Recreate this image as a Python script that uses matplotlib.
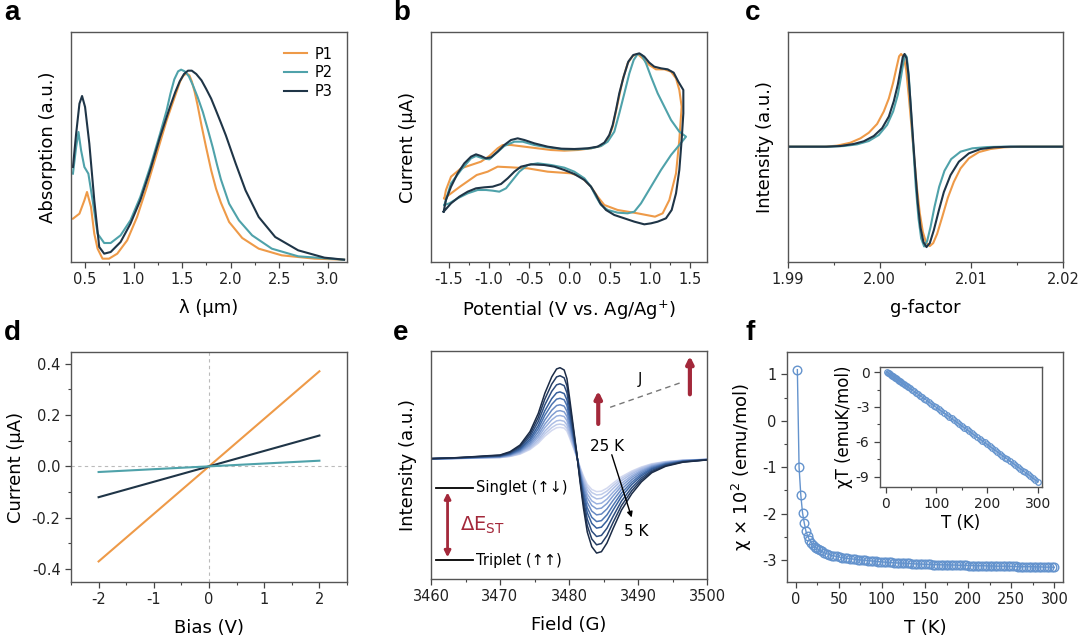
import numpy as np
import matplotlib
matplotlib.use("Agg")
import matplotlib.pyplot as plt
from matplotlib.ticker import MultipleLocator, FormatStrFormatter
from matplotlib.colors import LinearSegmentedColormap

plt.rcParams['font.family'] = ['DejaVu Sans']
plt.rcParams['axes.unicode_minus'] = False
plt.rcParams['mathtext.fontset'] = 'dejavusans'

# ---------------- colours ----------------
C_P1 = '#EE9A48'
C_P2 = '#4FA2AA'
C_P3 = '#1F3547'
C_RED = '#A3283A'

# ---------------- panel a: absorption ----------------
a_p1_x = [0.375, 0.442, 0.493, 0.52, 0.561, 0.595, 0.629, 0.68, 0.747, 0.832, 0.934, 1.036, 1.137,
          1.239, 1.341, 1.40, 1.442, 1.48, 1.51, 1.545, 1.575, 1.60, 1.63, 1.66, 1.70, 1.747,
          1.80, 1.85, 1.90, 1.985, 2.12, 2.29, 2.527, 2.866, 3.17]
a_p1_y = [1.30, 1.45, 1.85, 2.10, 1.65, 0.85, 0.40, 0.10, 0.10, 0.25, 0.65, 1.35, 2.25,
          3.25, 4.25, 4.75, 5.10, 5.42, 5.58, 5.66, 5.60, 5.42, 5.10, 4.70, 4.10, 3.45,
          2.75, 2.20, 1.78, 1.20, 0.72, 0.40, 0.20, 0.10, 0.07]
a_p2_x = [0.375, 0.408, 0.432, 0.459, 0.493, 0.534, 0.578, 0.629, 0.697, 0.764, 0.866, 0.968, 1.069,
          1.171, 1.273, 1.341, 1.38, 1.42, 1.459, 1.49, 1.527, 1.57, 1.612, 1.66, 1.714, 1.765,
          1.815, 1.86, 1.90, 1.985, 2.086, 2.222, 2.425, 2.697, 3.17]
a_p2_y = [2.65, 3.45, 3.90, 3.35, 2.85, 2.65, 1.85, 0.85, 0.57, 0.57, 0.80, 1.25, 1.95,
          2.85, 3.85, 4.55, 5.05, 5.48, 5.72, 5.77, 5.72, 5.57, 5.30, 4.95, 4.50, 3.98,
          3.45, 2.92, 2.48, 1.75, 1.25, 0.80, 0.40, 0.17, 0.07]
a_p3_x = [0.375, 0.408, 0.442, 0.469, 0.50, 0.544, 0.595, 0.646, 0.697, 0.764, 0.866, 0.968, 1.069,
          1.171, 1.273, 1.375, 1.43, 1.476, 1.52, 1.561, 1.60, 1.646, 1.70, 1.747, 1.80, 1.849,
          1.90, 1.951, 2.053, 2.154, 2.29, 2.46, 2.697, 2.968, 3.17]
a_p3_y = [2.85, 3.85, 4.75, 4.98, 4.65, 3.55, 1.85, 0.45, 0.25, 0.30, 0.60, 1.15, 1.85,
          2.75, 3.75, 4.65, 5.10, 5.42, 5.64, 5.74, 5.74, 5.64, 5.45, 5.20, 4.90, 4.55,
          4.18, 3.80, 2.95, 2.15, 1.35, 0.75, 0.35, 0.13, 0.07]
a_xticks = [0.5, 1.0, 1.5, 2.0, 2.5, 3.0]

# ---------------- panel b: cyclic voltammetry ----------------
b_p1_x = [-1.554, -1.534, -1.471, -1.347, -1.223, -1.099, -0.995, -0.892, -0.829, -0.726, -0.560,
          -0.394, -0.229, -0.063, 0.103, 0.268, 0.393, 0.476, 0.538, 0.600, 0.662, 0.724, 0.786,
          0.848, 0.910, 0.993, 1.076, 1.180, 1.263, 1.325, 1.366, 1.395, 1.366, 1.325, 1.242,
          1.159, 1.064, 0.848, 0.600, 0.434, 0.351, 0.268, 0.144, 0.020, -0.270, -0.519, -0.726,
          -0.892, -1.016, -1.152, -1.360, -1.554]
b_p1_y = [1.91, 2.16, 2.56, 2.81, 2.91, 3.01, 3.18, 3.41, 3.51, 3.51, 3.46,
          3.41, 3.36, 3.34, 3.36, 3.41, 3.48, 3.66, 4.06, 4.76, 5.46, 5.96, 6.18,
          6.24, 6.11, 5.91, 5.78, 5.78, 5.71, 5.51, 5.16, 4.66, 3.66, 2.66, 1.86,
          1.46, 1.36, 1.46, 1.56, 1.71, 1.96, 2.26, 2.56, 2.66, 2.71, 2.81, 2.84,
          2.86, 2.71, 2.61, 2.26, 1.91]
b_p2_x = [-1.554, -1.471, -1.347, -1.223, -1.161, -1.078, -0.995, -0.912, -0.809, -0.684, -0.581,
          -0.436, -0.270, -0.063, 0.103, 0.268, 0.393, 0.476, 0.558, 0.620, 0.683, 0.745, 0.799,
          0.848, 0.898, 0.952, 1.014, 1.097, 1.180, 1.263, 1.366, 1.449, 1.366, 1.263, 1.138,
          1.014, 0.890, 0.807, 0.724, 0.600, 0.476, 0.393, 0.331, 0.268, 0.186, 0.061, -0.063,
          -0.229, -0.394, -0.519, -0.622, -0.705, -0.788, -0.871, -0.954, -1.037, -1.140, -1.264,
          -1.389, -1.492, -1.554]
b_p2_y = [1.71, 2.36, 2.76, 3.11, 3.18, 3.11, 3.08, 3.26, 3.48, 3.61, 3.61,
          3.51, 3.44, 3.38, 3.38, 3.41, 3.48, 3.61, 3.91, 4.46, 5.06, 5.66, 6.06,
          6.24, 6.21, 5.96, 5.56, 5.06, 4.66, 4.26, 3.91, 3.76, 3.51, 3.21, 2.76,
          2.26, 1.76, 1.51, 1.46, 1.48, 1.56, 1.71, 1.96, 2.26, 2.51, 2.71, 2.83,
          2.91, 2.96, 2.91, 2.71, 2.46, 2.21, 2.11, 2.14, 2.16, 2.16, 2.06,
          1.91, 1.76, 1.71]
b_p3_x = [-1.563, -1.534, -1.471, -1.389, -1.306, -1.223, -1.161, -1.099, -1.037, -0.974, -0.892,
          -0.809, -0.726, -0.643, -0.560, -0.436, -0.270, -0.104, 0.061, 0.227, 0.351, 0.434,
          0.496, 0.538, 0.579, 0.620, 0.674, 0.732, 0.794, 0.869, 0.931, 0.993, 1.055, 1.138,
          1.221, 1.296, 1.354, 1.416, 1.416, 1.395, 1.366, 1.325, 1.271, 1.200, 1.097, 1.014,
          0.931, 0.807, 0.683, 0.558, 0.455, 0.384, 0.331, 0.268, 0.186, 0.061, -0.063, -0.187,
          -0.312, -0.477, -0.602, -0.684, -0.767, -0.850, -0.954, -1.057, -1.161, -1.264, -1.368,
          -1.471, -1.563]
b_p3_y = [1.51, 1.86, 2.26, 2.66, 2.96, 3.16, 3.23, 3.18, 3.11, 3.14, 3.31,
          3.51, 3.66, 3.71, 3.66, 3.56, 3.46, 3.40, 3.39, 3.41, 3.46, 3.58,
          3.81, 4.11, 4.56, 5.06, 5.56, 6.01, 6.21, 6.26, 6.16, 5.98, 5.86, 5.81,
          5.78, 5.68, 5.41, 5.16, 4.46, 3.66, 2.76, 2.06, 1.56, 1.31, 1.21, 1.16,
          1.13, 1.21, 1.31, 1.41, 1.56, 1.76, 2.01, 2.26, 2.46, 2.64, 2.76, 2.86,
          2.91, 2.93, 2.86, 2.71, 2.51, 2.34, 2.26, 2.24, 2.21, 2.11, 1.96,
          1.76, 1.51]
b_xticks = [-1.5, -1.0, -0.5, 0.0, 0.5, 1.0, 1.5]

# ---------------- panel c: EPR g-factor ----------------
c_p1_g = [1.990, 1.9940, 1.99535, 1.99681, 1.9979, 1.99881, 1.99972, 2.00045, 2.0010, 2.00147,
          2.00183, 2.00212, 2.00234, 2.00263, 2.00289, 2.00318, 2.00347, 2.00376, 2.00405, 2.00438,
          2.00471, 2.00507, 2.00547, 2.00584, 2.00627, 2.00682, 2.00744, 2.00809, 2.00882, 2.00973,
          2.01083, 2.0121, 2.01356, 2.01538, 2.020]
c_p1_i = [0.0, 0.0, 0.011, 0.043, 0.09, 0.15, 0.245, 0.38, 0.52, 0.69,
          0.85, 0.975, 1.0, 0.967, 0.83, 0.54, 0.22, -0.11, -0.43, -0.72,
          -0.92, -1.036, -1.072, -1.04, -0.94, -0.76, -0.55, -0.38, -0.235, -0.126,
          -0.058, -0.025, -0.007, 0.0, 0.0]
c_p2_g = [1.990, 1.9945, 1.99608, 1.99754, 1.99881, 1.9999, 2.00081, 2.00147, 2.00198, 2.00234,
          2.0026, 2.00278, 2.00296, 2.00318, 2.00343, 2.00369, 2.00394, 2.00424, 2.00453, 2.00485,
          2.00518, 2.00555, 2.00598, 2.00649, 2.00707, 2.0078, 2.00882, 2.0101, 2.01174, 2.01356,
          2.020]
c_p2_i = [0.0, 0.0, 0.007, 0.025, 0.061, 0.126, 0.235, 0.38, 0.56, 0.76,
          0.92, 0.993, 0.967, 0.76, 0.36, -0.036, -0.433, -0.776, -0.99, -1.076,
          -1.018, -0.866, -0.65, -0.433, -0.26, -0.134, -0.054, -0.018, -0.004, 0.0,
          0.0]
c_p3_g = [1.990, 1.9942, 1.99572, 1.99717, 1.99826, 1.99936, 2.00027, 2.0010, 2.00154, 2.00198,
          2.00231, 2.00252, 2.00271, 2.00292, 2.00314, 2.0034, 2.00365, 2.00391, 2.00416, 2.00445,
          2.00478, 2.00511, 2.00547, 2.00591, 2.00646, 2.0070, 2.00773, 2.00864, 2.00973, 2.01101,
          2.01246, 2.01428, 2.020]
c_p3_i = [0.0, 0.0, 0.007, 0.029, 0.058, 0.115, 0.20, 0.325, 0.49, 0.67,
          0.85, 0.967, 1.0, 0.957, 0.78, 0.43, 0.07, -0.29, -0.61, -0.87,
          -1.03, -1.083, -1.04, -0.90, -0.686, -0.49, -0.307, -0.162, -0.072, -0.025,
          -0.007, 0.0, 0.0]
c_xticks = [1.99, 2.00, 2.01, 2.02]

# ---------------- panel d: I-V ----------------
d_bias = [-2, 2]
d_p1 = [-0.37, 0.37]
d_p2 = [-0.022, 0.022]
d_p3 = [-0.12, 0.12]
d_xticks = [-2, -1, 0, 1, 2]
d_yticks = [-0.4, -0.2, 0.0, 0.2, 0.4]

# ---------------- panel e: variable temperature EPR ----------------
e_field = [3460, 3463, 3466, 3468, 3470.0, 3471.45, 3472.9, 3474.35, 3475.55, 3476.5, 3477.5,
           3478.2, 3478.7, 3479.3, 3479.7, 3480.1, 3480.6, 3481.1, 3481.6, 3482.1, 3482.65,
           3483.3, 3484.0, 3484.7, 3485.5, 3486.4, 3487.6, 3489.1, 3490.5, 3492.0, 3494.0,
           3496.5, 3500]
e_profile = [0.005, 0.012, 0.025, 0.035, 0.044, 0.08, 0.153, 0.30, 0.50, 0.72, 0.90,
             0.986, 1.0, 0.975, 0.88, 0.66, 0.37, 0.08, -0.25, -0.54, -0.80,
             -0.96, -1.03, -1.015, -0.92, -0.76, -0.56, -0.38, -0.25, -0.15, -0.08,
             -0.035, -0.01]
e_temps = [5, 7, 9, 11, 13, 15, 17, 19, 21, 23, 25]
e_amp = [1.0, 0.912, 0.824, 0.735, 0.665, 0.594, 0.53, 0.477, 0.424, 0.382, 0.347]
e_xticks = [3460, 3470, 3480, 3490, 3500]

# ---------------- panel f: susceptibility ----------------
f_T = [2, 4, 6, 8, 10, 12, 14, 16, 18, 20, 22, 24, 26, 28,
       30, 33, 36, 39, 42, 45, 48, 51, 54, 57, 60, 63, 66, 69, 72, 75, 78, 81, 84, 87, 90, 93, 96,
       99, 102, 105, 108, 111, 114, 117, 120, 123, 126, 129, 132, 135, 138, 141, 144, 147, 150,
       153, 156, 159, 162, 165, 168, 171, 174, 177, 180, 183, 186, 189, 192, 195, 198, 201, 204,
       207, 210, 213, 216, 219, 222, 225, 228, 231, 234, 237, 240, 243, 246, 249, 252, 255, 258,
       261, 264, 267, 270, 273, 276, 279, 282, 285, 288, 291, 294, 297, 300]
f_chi = [1.1, -1.0, -1.6, -1.98, -2.2, -2.38, -2.48, -2.56, -2.62, -2.67, -2.71, -2.74, -2.77, -2.79,
         -2.81, -2.84, -2.86, -2.88, -2.90, -2.91, -2.92, -2.935, -2.945, -2.955, -2.96, -2.97, -2.975,
         -2.98, -2.99, -2.995, -3.0, -3.0, -3.01, -3.015, -3.02, -3.025, -3.03,
         -3.035, -3.04, -3.045, -3.05, -3.05, -3.055, -3.06, -3.06, -3.065, -3.065, -3.07, -3.07,
         -3.075, -3.08, -3.08, -3.085, -3.085, -3.09,
         -3.09, -3.09, -3.095, -3.095, -3.095, -3.10, -3.10, -3.10, -3.10, -3.105, -3.105, -3.105,
         -3.11, -3.11, -3.11, -3.11, -3.115, -3.115,
         -3.115, -3.12, -3.12, -3.12, -3.12, -3.125, -3.125, -3.125, -3.13, -3.13, -3.13, -3.13,
         -3.13, -3.13, -3.135, -3.135, -3.135, -3.14,
         -3.14, -3.14, -3.14, -3.14, -3.14, -3.14, -3.145, -3.145, -3.145, -3.15, -3.15, -3.15,
         -3.15, -3.155]
fi_T = [2, 4, 6, 8, 10, 12, 14, 16, 18, 20, 22, 24, 26, 28, 30, 33, 36, 39, 42, 45, 48, 52, 56, 60,
        64, 68, 72, 76, 80, 85, 90, 95, 100, 105, 110, 115, 120, 125, 130, 135, 140, 145, 150, 155,
        160, 165, 170, 175, 180, 185, 190, 195, 200, 205, 210, 215, 220, 225, 230, 235, 240, 245,
        250, 255, 260, 265, 270, 275, 280, 285, 290, 295, 300]
fi_chiT = [0.022, -0.04, -0.096, -0.158, -0.22, -0.286, -0.347, -0.41, -0.47, -0.53, -0.60, -0.66,
           -0.72, -0.78, -0.84, -0.94, -1.03, -1.12, -1.22, -1.31, -1.40, -1.53, -1.65, -1.78,
           -1.90, -2.03, -2.15, -2.28, -2.40, -2.56, -2.72, -2.88, -3.04, -3.20, -3.36, -3.51,
           -3.67, -3.83, -3.99, -4.15, -4.31, -4.47, -4.64, -4.79, -4.94, -5.11, -5.27, -5.43,
           -5.58, -5.74, -5.91, -6.06, -6.22, -6.39, -6.55, -6.71, -6.86, -7.03, -7.20, -7.36,
           -7.51, -7.67, -7.83, -7.99, -8.16, -8.32, -8.48, -8.64, -8.79, -8.96, -9.14, -9.29,
           -9.45]
f_xticks = [0, 50, 100, 150, 200, 250, 300]
f_yticks = [-3, -2, -1, 0, 1]
fi_xticks = [0, 100, 200, 300]
fi_yticks = [-9, -6, -3, 0]

# ---------------- figure ----------------
W, H = 1080, 642
fig = plt.figure(figsize=(W / 100, H / 100), dpi=100)

def px_axes(l, r, t, b):
    return fig.add_axes([l / W, 1 - b / H, (r - l) / W, (b - t) / H])

TICK_FS = 10.5
LAB_FS = 13
SPINE_C = '#555555'

def style(ax, yticks=True, fs=TICK_FS):
    for s in ax.spines.values():
        s.set_color(SPINE_C)
        s.set_linewidth(1.0)
    ax.tick_params(which='both', direction='out', colors='#444444', labelcolor='#222222',
                   labelsize=fs, top=False, right=False)
    ax.tick_params(which='major', length=4, width=0.9)
    ax.tick_params(which='minor', length=2.5, width=0.8)
    if not yticks:
        ax.tick_params(axis='y', which='both', left=False, labelleft=False)

LW = 1.5

# a
axa = px_axes(71, 347, 32, 262)
axa.plot(a_p1_x, a_p1_y, color=C_P1, lw=LW, label='P1')
axa.plot(a_p2_x, a_p2_y, color=C_P2, lw=LW, label='P2')
axa.plot(a_p3_x, a_p3_y, color=C_P3, lw=LW, label='P3')
axa.set_xlim(0.355, 3.2)
axa.set_ylim(0, 6.9)
axa.set_xticks(a_xticks)
axa.xaxis.set_minor_locator(MultipleLocator(0.25))
axa.xaxis.set_major_formatter(FormatStrFormatter('%.1f'))
style(axa, yticks=False)
axa.set_xlabel('λ (μm)', fontsize=LAB_FS, labelpad=8)
axa.set_ylabel('Absorption (a.u.)', fontsize=LAB_FS, labelpad=10)
axa.legend(loc='upper right', frameon=False, fontsize=10.5, handlelength=1.6,
           labelspacing=0.25, borderaxespad=0.6, handletextpad=0.5)

# b
axb = px_axes(431, 707, 32, 262)
axb.plot(b_p1_x, b_p1_y, color=C_P1, lw=LW)
axb.plot(b_p2_x, b_p2_y, color=C_P2, lw=LW)
axb.plot(b_p3_x, b_p3_y, color=C_P3, lw=LW)
axb.set_xlim(-1.72, 1.71)
axb.set_ylim(0, 6.9)
axb.set_xticks(b_xticks)
axb.xaxis.set_minor_locator(MultipleLocator(0.25))
axb.xaxis.set_major_formatter(FormatStrFormatter('%.1f'))
style(axb, yticks=False)
axb.set_xlabel('Potential (V vs. Ag/Ag$^{+}$)', fontsize=LAB_FS, labelpad=8)
axb.set_ylabel('Current (μA)', fontsize=LAB_FS, labelpad=10)

# c
axc = px_axes(788, 1063, 32, 262)
axc.plot(c_p1_g, c_p1_i, color=C_P1, lw=LW)
axc.plot(c_p2_g, c_p2_i, color=C_P2, lw=LW)
axc.plot(c_p3_g, c_p3_i, color=C_P3, lw=LW)
axc.set_xlim(1.99, 2.02)
axc.set_ylim(-1.244, 1.237)
axc.set_xticks(c_xticks)
axc.xaxis.set_minor_locator(MultipleLocator(0.005))
axc.xaxis.set_major_formatter(FormatStrFormatter('%.2f'))
style(axc, yticks=False)
axc.set_xlabel('g-factor', fontsize=LAB_FS, labelpad=8)
axc.set_ylabel('Intensity (a.u.)', fontsize=LAB_FS, labelpad=10)

# d
axd = px_axes(71, 347, 352, 582)
axd.axhline(0, color='#bbbbbb', lw=0.8, ls=(0, (3, 3)), zorder=0)
axd.axvline(0, color='#bbbbbb', lw=0.8, ls=(0, (3, 3)), zorder=0)
axd.plot(d_bias, d_p1, color=C_P1, lw=LW)
axd.plot(d_bias, d_p3, color=C_P3, lw=LW)
axd.plot(d_bias, d_p2, color=C_P2, lw=LW)
axd.set_xlim(-2.5, 2.5)
axd.set_ylim(-0.45, 0.445)
axd.set_xticks(d_xticks)
axd.set_yticks(d_yticks)
axd.xaxis.set_minor_locator(MultipleLocator(0.5))
axd.yaxis.set_minor_locator(MultipleLocator(0.1))
axd.yaxis.set_major_formatter(FormatStrFormatter('%.1f'))
style(axd)
axd.set_xlabel('Bias (V)', fontsize=LAB_FS, labelpad=8)
axd.set_ylabel('Current (μA)', fontsize=LAB_FS, labelpad=5)

# e
axe = px_axes(431, 707, 351, 579)
cmap = LinearSegmentedColormap.from_list('ecm', ['#1B2B46', '#3A66A6', '#93ACDD', '#D3D9F0'])
n = len(e_temps)
for i in range(n - 1, -1, -1):
    col = cmap(i / (n - 1))
    axe.plot(e_field, np.array(e_profile) * e_amp[i], color=col, lw=1.1)
axe.set_xlim(3460, 3500)
axe.set_ylim(-1.314, 1.183)
axe.set_xticks(e_xticks)
axe.xaxis.set_minor_locator(MultipleLocator(5))
style(axe, yticks=False)
axe.set_xlabel('Field (G)', fontsize=LAB_FS, labelpad=8)
axe.set_ylabel('Intensity (a.u.)', fontsize=LAB_FS, labelpad=10)
T = axe.transAxes
axe.plot([0.018, 0.153], [0.40, 0.40], color='black', lw=1.3, transform=T)
axe.plot([0.018, 0.153], [0.083, 0.083], color='black', lw=1.3, transform=T)
axe.text(0.163, 0.40, 'Singlet (↑↓)', transform=T, fontsize=10.5, va='center', ha='left')
axe.text(0.163, 0.083, 'Triplet (↑↑)', transform=T, fontsize=10.5, va='center', ha='left')
axe.annotate('', xy=(0.06, 0.095), xytext=(0.06, 0.38), xycoords=T, textcoords=T,
             arrowprops=dict(arrowstyle='<|-|>', color=C_RED, lw=2.0, mutation_scale=9,
                             shrinkA=0, shrinkB=0))
axe.text(0.105, 0.235, r'ΔE$_{\mathrm{ST}}$', transform=T, fontsize=14, color=C_RED,
         va='center', ha='left')
axe.annotate('', xy=(0.606, 0.825), xytext=(0.606, 0.68), xycoords=T, textcoords=T,
             arrowprops=dict(arrowstyle='-|>', color=C_RED, lw=3.0, mutation_scale=10,
                             shrinkA=0, shrinkB=0))
axe.annotate('', xy=(0.938, 0.978), xytext=(0.938, 0.81), xycoords=T, textcoords=T,
             arrowprops=dict(arrowstyle='-|>', color=C_RED, lw=3.0, mutation_scale=10,
                             shrinkA=0, shrinkB=0))
axe.plot([0.649, 0.914], [0.753, 0.865], color='#777777', lw=1.0, ls=(0, (4, 3)), transform=T)
axe.text(0.757, 0.875, 'J', transform=T, fontsize=10.5, ha='center', va='center')
axe.text(0.637, 0.58, '25 K', transform=T, fontsize=11, ha='center', va='center')
axe.text(0.745, 0.21, '5 K', transform=T, fontsize=11, ha='center', va='center')
axe.annotate('', xy=(0.727, 0.27), xytext=(0.655, 0.545), xycoords=T, textcoords=T,
             arrowprops=dict(arrowstyle='-|>', color='black', lw=1.0, mutation_scale=8,
                             shrinkA=0, shrinkB=0))

# f
axf = px_axes(787, 1063, 352, 582)
F_C = '#6493CD'
axf.plot(f_T, f_chi, color=F_C, lw=1.0, marker='o', ms=6.2, mfc='none', mec=F_C, mew=1.0)
axf.set_xlim(-10, 310)
axf.set_ylim(-3.47, 1.48)
axf.set_xticks(f_xticks)
axf.set_yticks(f_yticks)
axf.xaxis.set_minor_locator(MultipleLocator(25))
axf.yaxis.set_minor_locator(MultipleLocator(0.5))
style(axf)
axf.set_xlabel('T (K)', fontsize=LAB_FS, labelpad=8)
axf.set_ylabel('χ × 10$^{2}$ (emu/mol)', fontsize=LAB_FS, labelpad=6)

axi = px_axes(880, 1042, 367, 487)
axi.plot(fi_T, fi_chiT, color=F_C, lw=1.0, marker='o', ms=4, mfc='none', mec=F_C, mew=0.9)
axi.set_xlim(-11, 308)
axi.set_ylim(-9.9, 0.45)
axi.set_xticks(fi_xticks)
axi.set_yticks(fi_yticks)
axi.xaxis.set_minor_locator(MultipleLocator(50))
axi.yaxis.set_minor_locator(MultipleLocator(1.5))
style(axi, fs=10)
axi.set_xlabel('T (K)', fontsize=12, labelpad=2)
axi.set_ylabel('χT (emuK/mol)', fontsize=12, labelpad=2)

# panel letters
for lab, x, y in [('a', 4, 20), ('b', 393, 20), ('c', 745, 20),
                  ('d', 4, 340), ('e', 393, 340), ('f', 745, 340)]:
    fig.text(x / W, 1 - y / H, lab, fontsize=20, fontweight='bold', va='baseline', ha='left',
             family=['Liberation Sans', 'DejaVu Sans'])

fig.savefig('out.png', dpi=100, facecolor='white')
